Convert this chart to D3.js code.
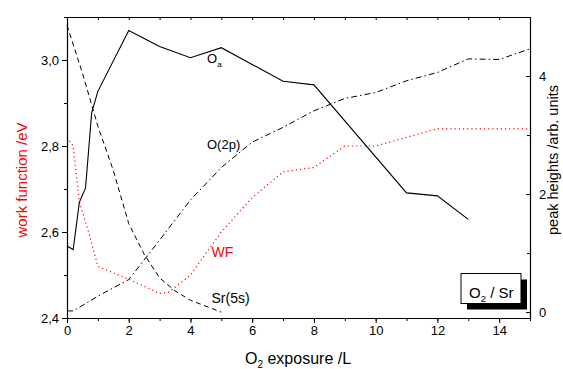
<!DOCTYPE html>
<html>
<head>
<meta charset="utf-8">
<script src="https://cdn.jsdelivr.net/npm/d3@7"></script>
<style>
  body { margin: 0; background: #fff; }
  svg { font-family: "Liberation Sans", Arial, sans-serif; }
</style>
</head>
<body>
<div class="chart"></div>
<script>
// O2 / Sr : work function and peak heights vs O2 exposure

// exposure values (L) for each series
var oa_x   = [0, 0.2, 0.4, 0.6, 0.8, 1, 2, 3, 4, 5, 7, 8, 11, 12, 13];
var oa_y   = [1.12, 1.06, 1.86, 2.1, 3.38, 3.74, 4.77, 4.5, 4.31, 4.48, 3.91, 3.85, 2.02, 1.97, 1.57];

var sr_x   = [0, 0.5, 1, 1.5, 2, 2.5, 3, 3.5, 4, 5];
var sr_y   = [4.86, 4.05, 3.15, 2.4, 1.5, 0.98, 0.58, 0.36, 0.2, 0.0];

var o2p_x  = [0, 0.2, 0.4, 1, 2, 3, 4, 5, 6, 7, 8, 9, 10, 11, 12, 13, 14, 15];
var o2p_y  = [0.02, 0.02, 0.08, 0.27, 0.55, 1.22, 1.9, 2.45, 2.88, 3.13, 3.41, 3.62, 3.72, 3.92, 4.06, 4.29, 4.28, 4.46];

var wf_x   = [0, 0.2, 0.4, 0.7, 1, 2, 3, 3.3, 4, 5, 6, 7, 8, 9, 10, 11, 12, 13, 14, 15];
var wf_y   = [2.82, 2.80, 2.67, 2.60, 2.52, 2.49, 2.457, 2.46, 2.50, 2.60, 2.68, 2.74, 2.75, 2.80, 2.80, 2.82, 2.84, 2.84, 2.84, 2.84];

var x_ticks      = [0, 2, 4, 6, 8, 10, 12, 14];
var x_minor      = d3.range(0, 16, 1);
var left_ticks   = [2.4, 2.6, 2.8, 3.0];
var left_minor   = [2.5, 2.7, 2.9, 3.1];
var right_ticks  = [0, 2, 4];
var right_minor  = [1, 3, 5];

var width = 563, height = 369;
var margin = {top: 17, right: 33, bottom: 51, left: 67};

var svg = d3.select('.chart').append('svg')
    .attr('width', width)
    .attr('height', height);

var x = d3.scaleLinear().domain([0, 15]).range([margin.left, width - margin.right]);
var y_wf = d3.scaleLinear().domain([2.4, 3.1]).range([height - margin.bottom, margin.top]);
var y_pk = d3.scaleLinear().domain([-0.1, 5.0]).range([height - margin.bottom, margin.top]);

var comma = d => d.toFixed(1).replace('.', ',');

function zip(xs, ys) { return xs.map((v, i) => [v, ys[i]]); }

// curves
var line_pk = d3.line().x(d => x(d[0])).y(d => y_pk(d[1]));
var line_wf = d3.line().x(d => x(d[0])).y(d => y_wf(d[1]));

svg.append('path')
    .attr('d', line_pk(zip(sr_x, sr_y)))
    .attr('fill', 'none').attr('stroke', '#000').attr('stroke-width', 1)
    .attr('stroke-dasharray', '5,3.5');

svg.append('path')
    .attr('d', line_pk(zip(o2p_x, o2p_y)))
    .attr('fill', 'none').attr('stroke', '#000').attr('stroke-width', 1)
    .attr('stroke-dasharray', '6,3,1.5,3');

svg.append('path')
    .attr('d', line_wf(zip(wf_x, wf_y)))
    .attr('fill', 'none').attr('stroke', '#ff0000').attr('stroke-width', 1.2)
    .attr('stroke-dasharray', '1.2,3');

svg.append('path')
    .attr('d', line_pk(zip(oa_x, oa_y)))
    .attr('fill', 'none').attr('stroke', '#000').attr('stroke-width', 1.1);

// axes
function style_axis(g, size) {
    g.selectAll('path').attr('stroke', '#000').attr('stroke-width', 1.2);
    g.selectAll('line').attr('stroke', '#000').attr('stroke-width', 1);
    g.selectAll('text').attr('font-size', size).attr('fill', '#000')
        .attr('font-family', '"Liberation Sans", Arial, sans-serif');
}

var bottom = height - margin.bottom;

svg.append('g')
    .attr('transform', `translate(0, ${bottom})`)
    .call(d3.axisBottom(x).tickValues(x_minor).tickFormat('').tickSize(3).tickSizeOuter(0))
    .call(g => style_axis(g, 13));
svg.append('g')
    .attr('transform', `translate(0, ${bottom})`)
    .call(d3.axisBottom(x).tickValues(x_ticks).tickSize(5).tickPadding(3).tickSizeOuter(0))
    .call(g => style_axis(g, 13))
    .call(g => g.select('.domain').remove());

svg.append('g')
    .attr('transform', `translate(0, ${margin.top})`)
    .call(d3.axisBottom(x).tickValues(x_minor).tickFormat('').tickSize(3).tickSizeOuter(0))
    .call(g => style_axis(g, 13));

svg.append('g')
    .attr('transform', `translate(${margin.left}, 0)`)
    .call(d3.axisLeft(y_wf).tickValues(left_minor).tickFormat('').tickSize(3).tickSizeOuter(0))
    .call(g => style_axis(g, 13));
svg.append('g')
    .attr('transform', `translate(${margin.left}, 0)`)
    .call(d3.axisLeft(y_wf).tickValues(left_ticks).tickFormat(comma).tickSize(5).tickPadding(3).tickSizeOuter(0))
    .call(g => style_axis(g, 13))
    .call(g => g.select('.domain').remove());

var right = width - margin.right;
svg.append('g')
    .attr('transform', `translate(${right}, 0)`)
    .call(d3.axisRight(y_pk).tickValues(right_minor).tickFormat('').tickSize(-3).tickSizeOuter(0))
    .call(g => style_axis(g, 13));
svg.append('g')
    .attr('transform', `translate(${right}, 0)`)
    .call(d3.axisRight(y_pk).tickValues(right_ticks).tickFormat(d3.format('d')).tickSize(-4).tickPadding(9).tickSizeOuter(0))
    .call(g => style_axis(g, 13))
    .call(g => g.select('.domain').remove());

// axis titles
var xt = svg.append('text')
    .attr('x', 245).attr('y', 364)
    .attr('font-size', 16);
xt.append('tspan').text('O');
xt.append('tspan').attr('font-size', 10).attr('dy', 4).text('2');
xt.append('tspan').attr('dy', -4).text(' exposure /L');

svg.append('text')
    .attr('transform', 'translate(26.5, 180) rotate(-90)')
    .attr('text-anchor', 'middle')
    .attr('font-size', 15)
    .attr('fill', '#ff0000')
    .text('work function /eV');

svg.append('text')
    .attr('transform', 'translate(558, 160) rotate(-90)')
    .attr('text-anchor', 'middle')
    .attr('font-size', 14.5)
    .text('peak heights /arb. units');

// curve labels
var oa = svg.append('text').attr('x', 207).attr('y', 63).attr('font-size', 13);
oa.append('tspan').text('O');
oa.append('tspan').attr('font-size', 8).attr('dy', 4).text('a');

svg.append('text').attr('x', 207).attr('y', 149).attr('font-size', 13).text('O(2p)');
svg.append('text').attr('x', 211.5).attr('y', 257).attr('font-size', 14).attr('fill', '#ff0000').text('WF');
svg.append('text').attr('x', 211.5).attr('y', 303).attr('font-size', 14).text('Sr(5s)');

// legend box
var lg = svg.append('g').attr('transform', 'translate(461, 273.5)');
lg.append('rect').attr('x', 6).attr('y', 6).attr('width', 60).attr('height', 30).attr('fill', '#000');
lg.append('rect').attr('width', 60).attr('height', 30).attr('fill', '#fff').attr('stroke', '#000').attr('stroke-width', 1);
var lt = lg.append('text').attr('x', 8).attr('y', 24.5).attr('font-size', 15);
lt.append('tspan').text('O');
lt.append('tspan').attr('font-size', 9.5).attr('dy', 4).text('2');
lt.append('tspan').attr('dy', -4).text(' / Sr');
</script>
</body>
</html>
